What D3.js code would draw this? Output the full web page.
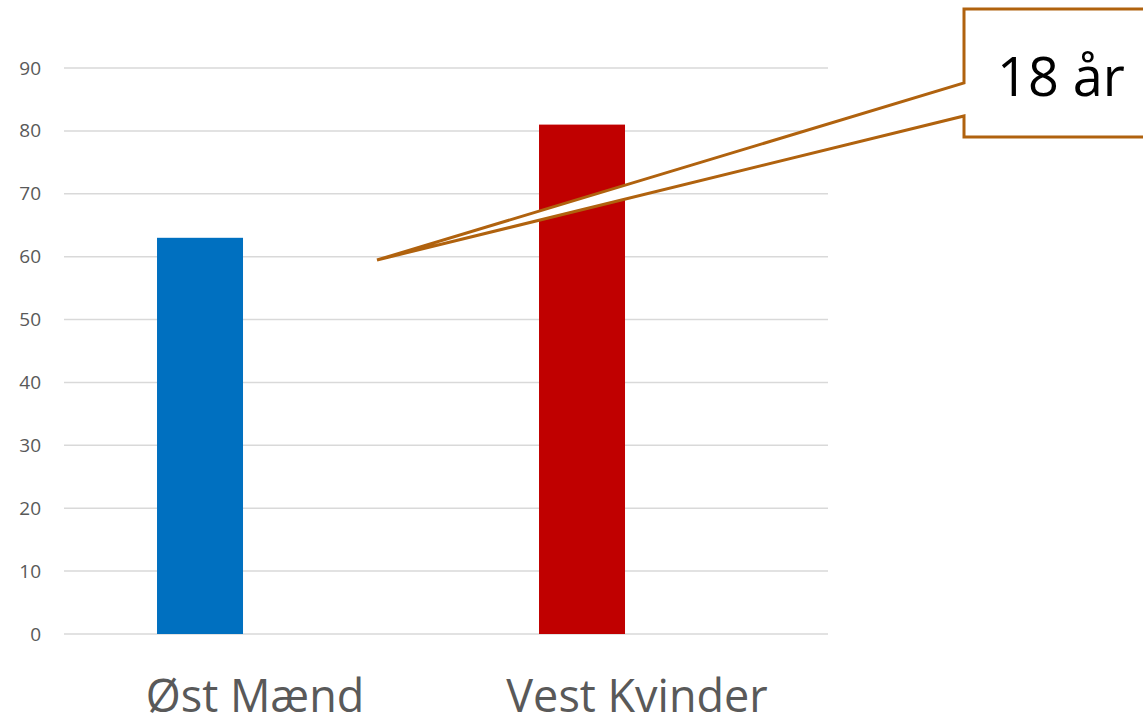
<!DOCTYPE html>
<html>
<head>
<meta charset="utf-8">
<script src="https://cdn.jsdelivr.net/npm/d3@7"></script>
<style>
  body { margin: 0; background: #fff; }
  svg { display: block; font-family: "Open Sans", "DejaVu Sans", sans-serif; }
</style>
</head>
<body>
<svg width="1143" height="724"></svg>
<script>
// data
var categories = ["Øst Mænd", "Vest Kvinder"];
var series = ["værdi", "tom"];   // second series is empty, so bars sit left in their group
var values = [63, 81];
var barColors = ["#0070c0", "#c00000"];
var yTicks = [0, 10, 20, 30, 40, 50, 60, 70, 80, 90];
var calloutText = "18 år";

var svg = d3.select("svg"),
  width = +svg.attr("width"),
  height = +svg.attr("height");

var x0 = d3.scaleBand()
  .domain(categories)
  .range([64, 828])
  .paddingInner(0.487)
  .paddingOuter(0.2435);

var x1 = d3.scaleBand()
  .domain(series)
  .range([0, x0.bandwidth()])
  .paddingInner(0.218);

var y = d3.scaleLinear()
  .domain([0, 90])
  .range([634, 68]);

// gridlines
svg.append("g")
  .attr("class", "grid")
  .selectAll("line")
  .data(yTicks)
  .enter().append("line")
  .attr("x1", 64)
  .attr("x2", 828)
  .attr("y1", function(d) { return y(d); })
  .attr("y2", function(d) { return y(d); })
  .attr("stroke", "#d9d9d9")
  .attr("stroke-width", 1.5);

// y axis labels
var yAxis = d3.axisLeft(y).tickValues(yTicks).tickSize(0).tickPadding(0);
var ya = svg.append("g")
  .attr("transform", "translate(41,0)")
  .call(yAxis);
ya.select(".domain").remove();
ya.selectAll("text")
  .attr("font-size", 19)
  .attr("font-family", "\"Open Sans\", sans-serif")
  .attr("fill", "#595959");

// bars
svg.append("g")
  .selectAll("rect")
  .data(values)
  .enter().append("rect")
  .attr("x", function(d, i) { return x0(categories[i]) + x1(series[0]); })
  .attr("width", x1.bandwidth())
  .attr("y", function(d) { return y(d); })
  .attr("height", function(d) { return y(0) - y(d); })
  .attr("fill", function(d, i) { return barColors[i]; });

// x axis labels
var xAxis = d3.axisBottom(x0).tickSize(0).tickPadding(0);
var xa = svg.append("g")
  .attr("transform", "translate(0,680)")
  .call(xAxis);
xa.select(".domain").remove();
xa.selectAll("text")
  .attr("font-size", 45)
  .attr("font-family", "\"Open Sans\", sans-serif")
  .attr("fill", "#595959");

// callout with pointer
var tip = [377, 260];
var box = { x0: 964, x1: 1160, y0: 9, y1: 137, n0: 83, n1: 116 };
var pts = [
  [box.x0, box.y0], [box.x1, box.y0], [box.x1, box.y1], [box.x0, box.y1],
  [box.x0, box.n1], tip, [box.x0, box.n0]
];
svg.append("path")
  .attr("d", d3.line()(pts) + "Z")
  .attr("fill", "#fff")
  .attr("stroke", "#b0620e")
  .attr("stroke-width", 3)
  .attr("stroke-linejoin", "miter");

svg.append("text")
  .attr("x", 1061)
  .attr("y", 96)
  .attr("text-anchor", "middle")
  .attr("font-size", 54)
  .attr("font-family", "\"Open Sans\", sans-serif")
  .attr("fill", "#000")
  .text(calloutText);
</script>
</body>
</html>
